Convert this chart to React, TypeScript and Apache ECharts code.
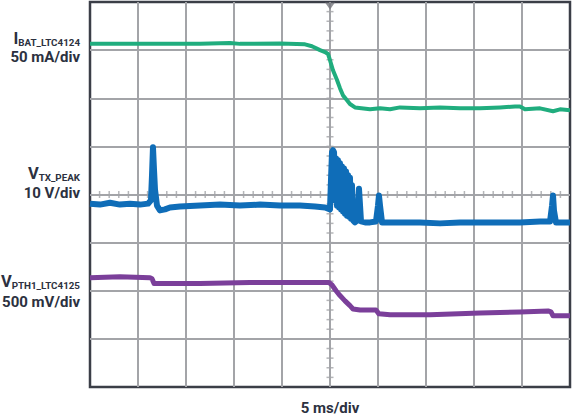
import React, { useEffect, useRef } from "react";
import * as echarts from "echarts";

// time in ms (5 ms/div, trigger at 0), amplitude in screen divisions (centre = 0)
const xTicksMs = [-25, 25, 5];
const yDivs = [-4, 4, 1];
const minorPerDiv = 5;

const ibatTrace: [number, number][] = [
  [-25, 3.13], [-18.75, 3.13], [-13.54, 3.13], [-10.42, 3.15], [-9.38, 3.13], [-5.21, 3.14],
  [-2.6, 3.12], [-1.88, 3.08], [-1.04, 3.0], [-0.52, 2.96], [-0.21, 2.92], [0, 2.79],
  [0.31, 2.58], [0.73, 2.38], [1.04, 2.21], [1.35, 2.06], [1.77, 1.96], [2.08, 1.88],
  [2.6, 1.81], [4.17, 1.77], [5.21, 1.79], [6.25, 1.77], [7.29, 1.81], [9.38, 1.79],
  [11.46, 1.81], [13.54, 1.79], [15.63, 1.79], [17.71, 1.81], [19.27, 1.83], [19.79, 1.83],
  [20.31, 1.77], [21.88, 1.79], [23.23, 1.73], [23.96, 1.77], [25, 1.75],
];

const vtxTrace: [number, number][] = [
  [-25, -0.19], [-23.96, -0.21], [-22.92, -0.17], [-21.88, -0.21], [-20.83, -0.19], [-19.79, -0.21],
  [-18.96, -0.19], [-18.65, -0.12], [-18.54, 0.4], [-18.44, 0.98], [-18.33, 0.5], [-18.23, 0.1],
  [-18.02, -0.23], [-17.71, -0.33], [-17.19, -0.31], [-16.67, -0.27], [-15.63, -0.25], [-13.54, -0.23],
  [-11.46, -0.21], [-9.38, -0.23], [-7.29, -0.21], [-5.21, -0.23], [-3.13, -0.23], [-1.56, -0.25],
  [-0.52, -0.27], [0, -0.31], [0.1, 0.29], [0.21, 0.88], [0.31, 0.92], [0.42, 0.88], [0.52, -0.12],
  [0.63, 0.75], [0.73, -0.23], [0.83, 0.71], [0.94, -0.27], [1.04, 0.65], [1.15, -0.31], [1.25, 0.58],
  [1.35, -0.35], [1.46, 0.54], [1.56, -0.4], [1.67, 0.48], [1.77, -0.44], [1.88, 0.4], [1.98, -0.46],
  [2.08, 0.35], [2.19, -0.5], [2.29, 0.19], [2.4, -0.54], [2.6, -0.58], [2.81, -0.54], [2.92, -0.23],
  [3.02, 0.12], [3.13, -0.23], [3.23, -0.56], [3.65, -0.58], [4.17, -0.58], [4.79, -0.56], [5.0, -0.23],
  [5.1, -0.02], [5.21, -0.23], [5.42, -0.58], [6.25, -0.58], [7.29, -0.58], [9.38, -0.58], [11.46, -0.6],
  [13.54, -0.58], [15.63, -0.58], [17.71, -0.58], [19.79, -0.58], [21.88, -0.56], [22.92, -0.56],
  [23.13, -0.23], [23.23, -0.02], [23.33, -0.33], [23.54, -0.58], [25, -0.58],
];

const vpthTrace: [number, number][] = [
  [-25, -1.73], [-21.88, -1.71], [-18.75, -1.73], [-18.54, -1.75], [-18.33, -1.85], [-13.54, -1.85],
  [-8.33, -1.83], [-3.13, -1.83], [-0.1, -1.83], [0.21, -1.88], [0.63, -2.0], [1.04, -2.1],
  [1.56, -2.21], [2.08, -2.31], [2.4, -2.38], [3.13, -2.4], [4.79, -2.4], [5.1, -2.48], [6.25, -2.5],
  [10.42, -2.5], [15.63, -2.46], [19.79, -2.44], [22.71, -2.42], [23.02, -2.44], [23.23, -2.52], [25, -2.52],
];

const labelMain = ["I", "V", "V"];
const labelSub = ["BAT_LTC4124", "TX_PEAK", "PTH1_LTC4125"];
const labelScale = ["50 mA/div", "10 V/div", "500 mV/div"];
const xScaleLabel = "5 ms/div";

const GRID = "#a3a4a8";
const FRAME = "#3b3e47";
const TEXT = "#2c3140";
const FONT = "Roboto";

export default function App() {
  const ref = useRef<HTMLDivElement>(null);
  useEffect(() => {
    if (!ref.current) return;
    const chart = echarts.init(ref.current, undefined, { renderer: "svg" });
    const [xmin, xmax, xint] = xTicksMs;
    const [ymin, ymax, yint] = yDivs;

    // graticule minor ticks on the centre crosshair, at 1/5 of each division
    const xMinor: [number, number][] = [];
    for (let k = 1; k < ((xmax - xmin) / xint) * minorPerDiv; k++) xMinor.push([xmin + (k * xint) / minorPerDiv, 0]);
    const yMinor: [number, number][] = [];
    for (let k = 1; k < ((ymax - ymin) / yint) * minorPerDiv; k++) yMinor.push([0, ymin + (k * yint) / minorPerDiv]);

    const labelY = [40, 175, 283];
    const scaleY = [57, 193, 302];
    const graphic: any[] = [];
    for (let i = 0; i < 3; i++) {
      graphic.push({
        type: "text", x: 80, y: labelY[i],
        style: {
          text: `{a|${labelMain[i]}}{b|${labelSub[i]}}`, align: "right", verticalAlign: "middle",
          rich: {
            a: { fontSize: 16.5, fontWeight: "bold", fontFamily: FONT, fill: TEXT, lineHeight: 14, verticalAlign: "bottom" },
            b: { fontSize: 9.8, fontWeight: "bold", fontFamily: FONT, fill: TEXT, lineHeight: 14, verticalAlign: "bottom" },
          },
        },
      });
      graphic.push({
        type: "text", x: 80, y: scaleY[i],
        style: { text: labelScale[i], align: "right", verticalAlign: "middle", fontSize: 15, lineHeight: 13, fontWeight: "bold", fontFamily: FONT, fill: TEXT },
      });
    }
    graphic.push({
      type: "text", x: 330, y: 408,
      style: { text: xScaleLabel, align: "center", verticalAlign: "middle", fontSize: 15, fontWeight: "bold", fontFamily: FONT, fill: TEXT },
    });
    const plainAxis = (min: number, max: number, interval: number) => ({
      type: "value", min, max, interval,
      axisLine: { show: false, onZero: false }, axisTick: { show: false }, axisLabel: { show: false },
      splitLine: { show: true, showMinLine: false, showMaxLine: false, lineStyle: { color: GRID, width: 2 } },
    });
    chart.setOption({
      animation: false,
      grid: { left: 90, top: 2, width: 480, height: 385, show: true, borderColor: FRAME, borderWidth: 2.5, backgroundColor: "#fff" },
      xAxis: plainAxis(xmin, xmax, xint),
      yAxis: plainAxis(ymin, ymax, yint),
      graphic,
      series: [
        {
          type: "scatter", data: xMinor, symbol: "rect", symbolSize: [1.5, 7], silent: true, z: 1,
          itemStyle: { color: GRID },
        },
        {
          type: "scatter", data: yMinor, symbol: "rect", symbolSize: [7, 1.5], silent: true, z: 1,
          itemStyle: { color: GRID },
        },
        {
          type: "scatter", data: [[0, ymax]], symbol: "triangle", symbolSize: [10, 7], symbolRotate: 180,
          symbolOffset: [0, 4], clip: false, silent: true, z: 4, itemStyle: { color: "#75777d" },
        },
        { type: "line", data: ibatTrace, showSymbol: false, symbol: "none", lineStyle: { color: "#20ad7e", width: 4, join: "round" }, z: 3 },
        { type: "line", data: vtxTrace, showSymbol: false, symbol: "none", lineStyle: { color: "#0f6db8", width: 6, join: "round" }, z: 3 },
        { type: "line", data: vpthTrace, showSymbol: false, symbol: "none", lineStyle: { color: "#7b3f9a", width: 5, join: "round" }, z: 3 },
      ],
    });
    return () => chart.dispose();
  }, []);
  return <div ref={ref} style={{ position: "fixed", left: 0, top: 0, width: 572, height: 416, background: "#fff" }} />;
}
